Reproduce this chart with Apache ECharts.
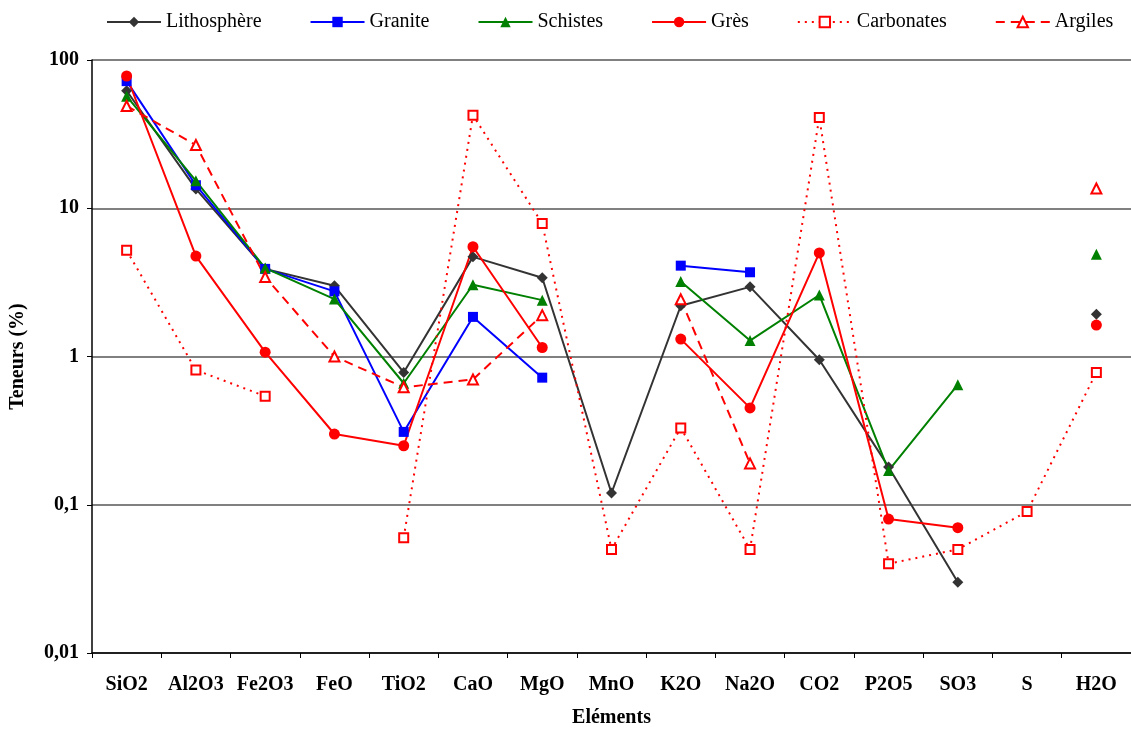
<!DOCTYPE html>
<html>
<head>
<meta charset="utf-8">
<script src="https://cdn.jsdelivr.net/npm/echarts@6/dist/echarts.min.js"></script>
<style>
  html, body { margin: 0; padding: 0; background: #fff; }
</style>
</head>
<body>
<div id="main" style="width: 1131px; height: 729px;"></div>
<script>
  // catégories (éléments)
  const categories = ['SiO2', 'Al2O3', 'Fe2O3', 'FeO', 'TiO2', 'CaO', 'MgO', 'MnO', 'K2O', 'Na2O', 'CO2', 'P2O5', 'SO3', 'S', 'H2O'];

  // teneurs (%), null = pas de valeur
  const lithosphere = [62, 13.5, 3.9, 3.0, 0.78, 4.7, 3.4, 0.12, 2.2, 2.95, 0.95, 0.18, 0.03, null, 1.93];
  const granite     = [72, 14.3, 3.9, 2.75, 0.31, 1.85, 0.72, null, 4.1, 3.7, null, null, null, null, null];
  const schistes    = [57, 15.3, 3.95, 2.44, 0.66, 3.05, 2.4, null, 3.2, 1.28, 2.6, 0.17, 0.645, null, 4.9];
  const gres        = [78, 4.76, 1.07, 0.30, 0.25, 5.5, 1.15, null, 1.31, 0.45, 5.0, 0.08, 0.07, null, 1.63];
  const carbonates  = [5.2, 0.81, 0.54, null, 0.06, 42.4, 7.9, 0.05, 0.33, 0.05, 41, 0.04, 0.05, 0.09, 0.78];
  const argiles     = [49, 26.7, 3.44, 1.0, 0.62, 0.70, 1.9, null, 2.43, 0.19, null, null, null, null, 13.6];

  const yLabels = { '100': '100', '10': '10', '1': '1', '0.1': '0,1', '0.01': '0,01' };

  const font = '"Liberation Serif", "Times New Roman", serif';

  function mkSerie(name, data, color, symbol, size, lineType, hollow) {
    return {
      name: name,
      type: 'line',
      data: data,
      symbol: symbol,
      symbolSize: size,
      showAllSymbol: true,
      connectNulls: false,
      lineStyle: { color: color, width: 2, type: lineType },
      itemStyle: hollow
        ? { color: color, borderColor: color, borderWidth: 1.5 }
        : { color: color },
      emphasis: { disabled: true }
    };
  }

  const chart = echarts.init(document.getElementById('main'));
  chart.setOption({
    animation: false,
    textStyle: { fontFamily: font },
    legend: {
      top: 12,
      left: 106,
      width: 1025,
      padding: 0,
      itemWidth: 54,
      itemHeight: 13,
      itemGap: 48,
      textStyle: { fontFamily: font, fontSize: 20, color: '#000' },
      data: ['Lithosphère', 'Granite', 'Schistes', 'Grès', 'Carbonates', 'Argiles']
    },
    grid: {
      left: 92,
      right: 0,
      top: 60,
      bottom: 76,
      outerBoundsMode: 'none',
      containLabel: false
    },
    xAxis: {
      type: 'category',
      data: categories,
      boundaryGap: true,
      name: 'Eléments',
      nameLocation: 'middle',
      nameGap: 55,
      nameTextStyle: { fontFamily: font, fontSize: 20, fontWeight: 'bold', color: '#000' },
      axisLine: { lineStyle: { color: '#000', width: 1.5 } },
      axisTick: { show: true, length: 5, lineStyle: { color: '#000' } },
      axisLabel: { fontFamily: font, fontSize: 20, fontWeight: 'bold', color: '#000', margin: 22, interval: 0 }
    },
    yAxis: {
      type: 'log',
      logBase: 10,
      min: 0.01,
      max: 100,
      name: 'Teneurs (%)',
      nameLocation: 'middle',
      nameGap: 64,
      nameTextStyle: { fontFamily: font, fontSize: 20, fontWeight: 'bold', color: '#000' },
      axisLine: { show: true, lineStyle: { color: '#000', width: 1.5 } },
      axisTick: { show: true, length: 5, lineStyle: { color: '#000' } },
      axisLabel: {
        fontFamily: font, fontSize: 20, fontWeight: 'bold', color: '#000', margin: 13,
        formatter: function (v) {
          const k = String(+Number(v).toPrecision(3));
          return yLabels[k] !== undefined ? yLabels[k] : k.replace('.', ',');
        }
      },
      splitLine: { show: true, lineStyle: { color: '#808080', width: 2 } }
    },
    series: [
      mkSerie('Lithosphère', lithosphere, '#333333', 'diamond', 11, 'solid', false),
      mkSerie('Granite', granite, '#0000ff', 'rect', 10, 'solid', false),
      mkSerie('Schistes', schistes, '#008000', 'triangle', 11, 'solid', false),
      mkSerie('Grès', gres, '#ff0000', 'circle', 11, 'solid', false),
      mkSerie('Carbonates', carbonates, '#ff0000', 'emptyRect', 9, [2, 5], true),
      mkSerie('Argiles', argiles, '#ff0000', 'emptyTriangle', 10, [9, 6], true)
    ]
  });
</script>
</body>
</html>
